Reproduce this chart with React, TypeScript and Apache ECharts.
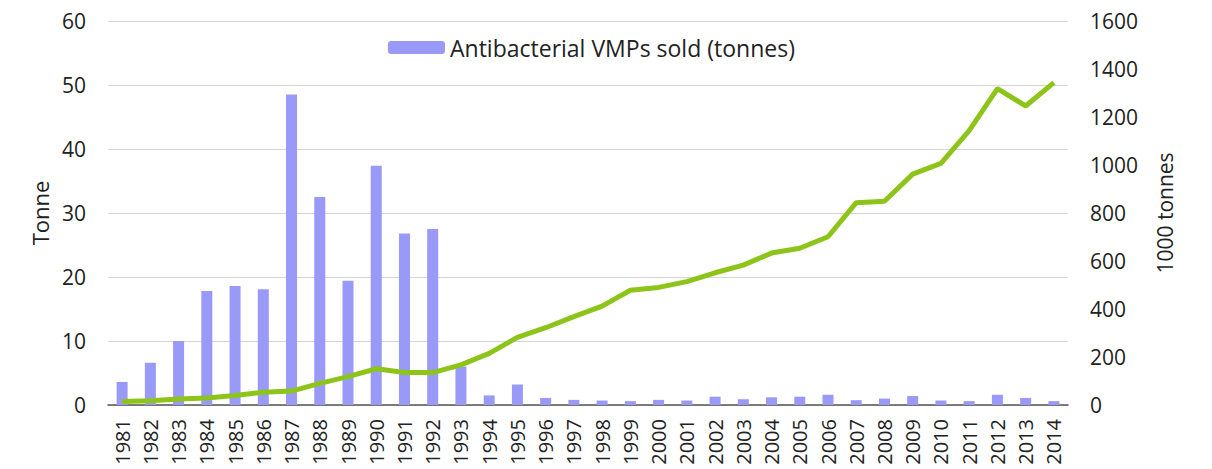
import React, { useEffect, useRef } from "react";
import * as echarts from "echarts";

const years = [
  "1981","1982","1983","1984","1985","1986","1987","1988","1989","1990",
  "1991","1992","1993","1994","1995","1996","1997","1998","1999","2000",
  "2001","2002","2003","2004","2005","2006","2007","2008","2009","2010",
  "2011","2012","2013","2014",
];

const vmpTonnes = [
  3.6, 6.6, 10.0, 17.8, 18.6, 18.1, 48.5, 32.5, 19.4, 37.4,
  26.8, 27.5, 6.0, 1.5, 3.2, 1.1, 0.8, 0.7, 0.6, 0.8,
  0.7, 1.3, 0.9, 1.2, 1.3, 1.6, 0.75, 1.0, 1.4, 0.7,
  0.6, 1.6, 1.1, 0.6,
];

const production = [
  15, 18, 25, 29, 40, 53, 58, 90, 118, 151,
  135, 135, 167, 215, 282, 322, 368, 412, 478, 490,
  514, 551, 583, 633, 653, 701, 843, 849, 962, 1007,
  1143, 1318, 1246, 1343,
];

const FONT = "Open Sans";

export default function App() {
  const ref = useRef<HTMLDivElement>(null);
  useEffect(() => {
    if (!ref.current) return;
    const chart = echarts.init(ref.current, null, { renderer: "svg" });
    chart.setOption({
      animation: false,
      backgroundColor: "#ffffff",
      textStyle: { fontFamily: FONT },
      legend: {
        data: ["Antibacterial VMPs sold (tonnes)"],
        left: 383,
        top: 31,
        itemWidth: 57,
        itemHeight: 13,
        itemGap: 5,
        textStyle: { fontSize: 23, color: "#222", fontFamily: FONT },
      },
      grid: { left: 108, right: 144, top: 21, bottom: 64, containLabel: false },
      xAxis: {
        type: "category",
        data: years,
        axisLine: { lineStyle: { color: "#555", width: 1.5 } },
        axisTick: { show: false },
        axisLabel: {
          rotate: 90,
          interval: 0,
          fontSize: 20,
          color: "#222",
          margin: 14,
          fontFamily: FONT,
        },
      },
      yAxis: [
        {
          type: "value",
          min: 0,
          max: 60,
          interval: 10,
          name: "Tonne",
          nameLocation: "middle",
          nameGap: 57,
          nameTextStyle: { fontSize: 22, color: "#222", fontFamily: FONT },
          axisLine: { show: false },
          axisTick: { show: false },
          axisLabel: { fontSize: 21, color: "#222", margin: 22, fontFamily: FONT },
          splitLine: { lineStyle: { color: "#d6d6d6", width: 1 } },
        },
        {
          type: "value",
          min: 0,
          max: 1600,
          interval: 200,
          position: "right",
          name: "1000 tonnes",
          nameLocation: "middle",
          nameGap: 86,
          nameRotate: 90,
          nameTextStyle: { fontSize: 21, color: "#222", fontFamily: FONT },
          axisLine: { show: false },
          axisTick: { show: false },
          axisLabel: {
            fontSize: 21,
            color: "#222",
            margin: 22,
            fontFamily: FONT,
            formatter: (v: number) => String(v),
          },
          splitLine: { show: false },
        },
      ],
      series: [
        {
          name: "Antibacterial VMPs sold (tonnes)",
          type: "bar",
          yAxisIndex: 0,
          data: vmpTonnes,
          barWidth: 11,
          itemStyle: { color: "#9999f7" },
        },
        {
          name: "Production",
          type: "line",
          yAxisIndex: 1,
          data: production,
          symbol: "none",
          lineStyle: { color: "#8dc41a", width: 5 },
          itemStyle: { color: "#8dc41a" },
        },
      ],
    });
    return () => chart.dispose();
  }, []);
  return (
    <div
      ref={ref}
      style={{ position: "absolute", left: 0, top: 0, width: 1212, height: 469 }}
    />
  );
}
